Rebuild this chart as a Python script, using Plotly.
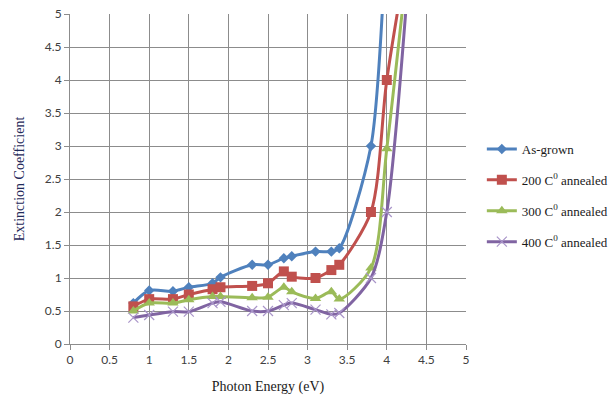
import plotly.graph_objects as go

# Photon energy (eV) sampled for every film
energy = [0.8, 1.0, 1.3, 1.5, 1.8, 1.9, 2.3, 2.5, 2.7, 2.8, 3.1, 3.3, 3.4, 3.8, 4.0, 4.3]

# Extinction coefficient for each film
as_grown = [0.62, 0.81, 0.80, 0.86, 0.92, 1.01, 1.20, 1.20, 1.30, 1.33, 1.40, 1.40, 1.45, 3.0, 6.0, 9.0]
ann_200 = [0.57, 0.68, 0.68, 0.75, 0.83, 0.86, 0.88, 0.92, 1.10, 1.02, 1.00, 1.12, 1.20, 2.0, 4.0, 6.2]
ann_300 = [0.50, 0.62, 0.62, 0.67, 0.72, 0.72, 0.70, 0.71, 0.86, 0.79, 0.69, 0.79, 0.68, 1.15, 2.96, 6.2]
ann_400 = [0.40, 0.44, 0.49, 0.49, 0.62, 0.64, 0.50, 0.50, 0.59, 0.62, 0.52, 0.45, 0.47, 1.0, 2.0, 6.0]

names = ["As-grown", "200 C<sup>0</sup> annealed", "300 C<sup>0</sup> annealed", "400 C<sup>0</sup> annealed"]
colors = ["#4F81BD", "#C0504D", "#9BBB59", "#8064A2"]
symbols = ["diamond", "square", "triangle-up", "x-thin"]
sizes = [8, 10, 10, 10]

fig = go.Figure()
for i, (ys, name, col, sym, sz) in enumerate(zip([as_grown, ann_200, ann_300, ann_400], names, colors, symbols, sizes)):
    marker = dict(symbol=sym, size=sz, color=col)
    if sym == "x-thin":
        marker["line"] = dict(color="#A995C9", width=1.2)
    fig.add_trace(go.Scatter(
        x=energy, y=ys, name=name, mode="lines+markers", legendgroup=f"g{i}",
        line=dict(color=col, width=3, shape="spline", smoothing=0.8),
        marker=marker, cliponaxis=True,
    ))

ticks = [0, 0.5, 1, 1.5, 2, 2.5, 3, 3.5, 4, 4.5, 5]
tick_text = ["0", "0.5", "1", "1.5", "2", "2.5", "3", "3.5", "4", "4.5", "5"]

axis_common = dict(
    showgrid=True, gridcolor="#8C8C8C", gridwidth=1,
    showline=True, linecolor="#8C8C8C", linewidth=1,
    ticks="outside", ticklen=5, tickcolor="#8C8C8C",
    tickfont=dict(family="Lato, Open Sans, sans-serif", size=12, color="#404040"),
    zeroline=False, range=[0, 5], tickvals=ticks, ticktext=tick_text,
)

fig.update_xaxes(
    title=dict(text="Photon Energy (eV)", font=dict(family="Liberation Serif, serif", size=14, color="#1a1a1a"), standoff=14),
    **axis_common,
)
fig.update_yaxes(
    title=dict(text="Extinction Coefficient", font=dict(family="Liberation Serif, serif", size=14, color="#1F2A5A"), standoff=16),
    **axis_common,
)

fig.update_layout(
    width=611, height=401,
    margin=dict(l=70, r=145, t=14, b=57, autoexpand=False),
    paper_bgcolor="white", plot_bgcolor="white",
    showlegend=True,
    legend=dict(
        x=1.04, y=0.45, xanchor="left", yanchor="middle",
        font=dict(family="Liberation Serif, serif", size=13, color="#1a1a1a"),
        tracegroupgap=11, itemwidth=30, bgcolor="rgba(0,0,0,0)",
    ),
)

fig.write_html("out.html")
